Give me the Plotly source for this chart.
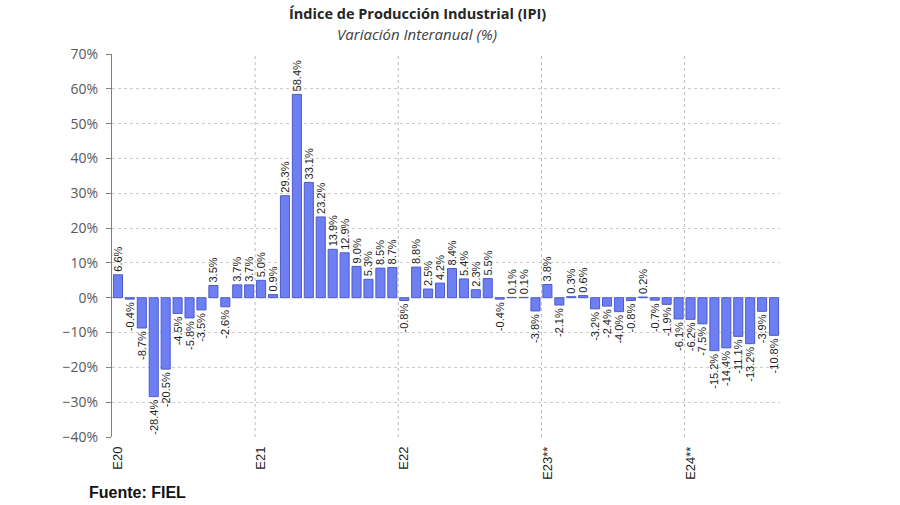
import plotly.graph_objects as go

values_2020 = [6.6, -0.4, -8.7, -28.4, -20.5, -4.5, -5.8, -3.5, 3.5, -2.6, 3.7, 3.7]
values_2021 = [5.0, 0.9, 29.3, 58.4, 33.1, 23.2, 13.9, 12.9, 9.0, 5.3, 8.5, 8.7]
values_2022 = [-0.8, 8.8, 2.5, 4.2, 8.4, 5.4, 2.3, 5.5, -0.4, 0.1, 0.1, -3.8]
values_2023 = [3.8, -2.1, 0.3, 0.6, -3.2, -2.4, -4.0, -0.8, 0.2, -0.7, -1.9, -6.1]
values_2024 = [-6.2, -7.5, -15.2, -14.4, -11.1, -13.2, -3.9, -10.8]
year_labels = ["E20", "E21", "E22", "E23**", "E24**"]

series = [values_2020, values_2021, values_2022, values_2023, values_2024]
values = [v for s in series for v in s]
x = list(range(len(values)))
year_starts = []
pos = 0
for s in series:
    year_starts.append(pos)
    pos += len(s)

W, H = 900, 505
ML, MR, MT, MB = 112, 120, 54, 68

fig = go.Figure()
fig.add_trace(go.Bar(
    x=x, y=values, width=0.76,
    marker=dict(color="#6E7FF3", line=dict(color="#4C5CC8", width=1)),
    texttemplate="%{y:.1f}%", textposition="outside", textangle=-90,
    constraintext="none", cliponaxis=False,
    textfont=dict(family="Liberation Sans, Arial", size=11, color="#222222"),
    hoverinfo="skip",
))

shapes = []
for s in year_starts[1:]:
    shapes.append(dict(type="line", xref="x", yref="paper", x0=s - 0.5, x1=s - 0.5,
                       y0=0, y1=1, line=dict(color="#BDBDBD", width=1, dash="dot"), layer="below"))

fig.update_layout(
    width=W, height=H,
    margin=dict(l=ML, r=MR, t=MT, b=MB),
    paper_bgcolor="white", plot_bgcolor="white",
    showlegend=False,
    shapes=shapes,
    xaxis=dict(
        range=[-0.5, len(values) - 0.5],
        tickmode="array", tickvals=year_starts, ticktext=year_labels,
        tickangle=-90, showgrid=False, zeroline=False, showline=False,
        ticks="", ticklabelstandoff=6,
        tickfont=dict(family="Liberation Sans, Arial", size=13, color="#222222"),
    ),
    yaxis=dict(
        range=[-40, 70], dtick=10, ticksuffix="%",
        showgrid=True, gridcolor="#CCCCCC", griddash="dot", gridwidth=1,
        zeroline=False, showline=True, linecolor="#808080", linewidth=1,
        ticks="outside", ticklen=5, tickcolor="#808080", ticklabelstandoff=5,
        tickfont=dict(family="Open Sans, Liberation Sans", size=14, color="#595959"),
    ),
)

texts = [
    ("<b>Índice de Producción Industrial (IPI)</b>", 417, 14, "center",
     dict(family="Open Sans", size=14.5, color="#262626")),
    ("<i>Variación Interanual (%)</i>", 417, 34, "center",
     dict(family="Open Sans", size=15, color="#404040")),
    ("<b>Fuente: FIEL</b>", 87, 492, "left",
     dict(family="Liberation Sans, Arial", size=16, color="#111111")),
]
pw = W - ML - MR
ph = H - MT - MB
for t, px, py, anc, f in texts:
    fig.add_annotation(text=t, xref="paper", yref="paper",
                       x=(px - ML) / pw, y=1 - (py - MT) / ph,
                       xanchor=anc, yanchor="middle", showarrow=False, font=f)

fig.write_html("out.html", config={"displayModeBar": False})

with open("out.html", "r", encoding="utf-8") as fh:
    html = fh.read()
html = html.replace("<body>", '<body style="margin:0">', 1)
with open("out.html", "w", encoding="utf-8") as fh:
    fh.write(html)
